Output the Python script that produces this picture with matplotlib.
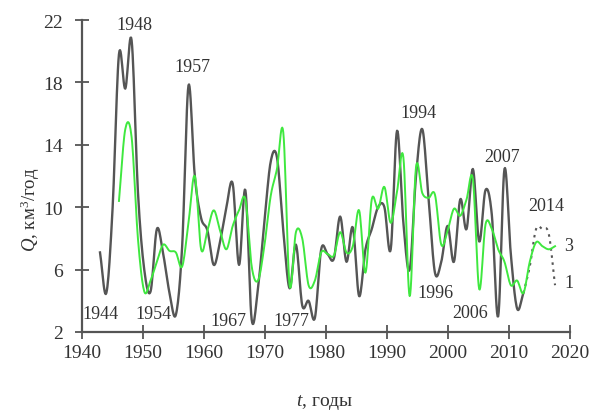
import numpy as np
import matplotlib
matplotlib.use("Agg")
import matplotlib.pyplot as plt

plt.rcParams['font.family'] = ['Liberation Serif', 'DejaVu Serif']
plt.rcParams['mathtext.fontset'] = 'custom'
plt.rcParams['mathtext.rm'] = 'Liberation Serif'
plt.rcParams['mathtext.it'] = 'Liberation Serif:italic'

# ---- data ----
years_obs = list(range(1943, 2011))
q_obs = [7.1, 4.5, 10.0, 19.8, 17.6, 20.7, 11.0, 6.0, 4.6, 8.6,
         7.0, 4.5, 3.1, 7.5, 17.8, 12.0, 9.3, 8.5, 6.3, 7.8,
         10.0, 11.5, 6.3, 11.1, 2.8, 4.8, 9.0, 12.9, 13.2, 8.5,
         4.8, 7.6, 3.7, 4.0, 2.9, 7.3, 7.0, 6.7, 9.4, 6.5,
         8.7, 4.3, 7.3, 8.6, 10.0, 10.0, 7.3, 14.9, 9.0, 6.0,
         12.0, 15.0, 10.5, 5.8, 6.5, 8.8, 6.5, 10.5, 8.6, 12.45,
         7.8, 11.1, 9.5, 3.0, 12.45, 7.0, 3.5, 4.5]
years_fc = [2010, 2011, 2012, 2013, 2014, 2015]
q_fc = [4.5, 6.2, 8.6, 8.6, 8.3, 5.0]

years_mod = list(range(1946, 2016))
q_mod = [10.4, 15.0, 14.5, 8.0, 4.6, 5.3, 6.5, 7.6, 7.2, 7.1,
         6.2, 9.0, 12.0, 7.3, 8.5, 9.8, 8.5, 7.3, 8.8, 9.8,
         10.5, 6.2, 5.3, 7.5, 10.7, 12.45, 14.8, 5.0, 8.4, 8.0,
         5.0, 5.3, 7.1, 7.0, 6.9, 8.4, 7.1, 7.5, 9.8, 5.8,
         10.5, 9.9, 11.3, 9.0, 11.0, 13.2, 4.3, 12.55, 10.9, 10.6,
         10.8, 7.6, 8.5, 9.9, 9.45, 10.5, 11.8, 4.75, 8.9, 8.6,
         7.3, 6.5, 5.0, 5.3, 4.5, 6.5, 7.75, 7.5, 7.3, 7.5]

x_ticks = [1940, 1950, 1960, 1970, 1980, 1990, 2000, 2010, 2020]
y_ticks = [2, 6, 10, 14, 18, 22]

peak_labels = ["1948", "1957", "1944", "1954", "1967", "1977",
               "1994", "1996", "2006", "2007", "2014"]


def smooth(x, y, n=12):
    """Catmull-Rom rendering of a line through the given points."""
    x = np.asarray(x, float)
    y = np.asarray(y, float)
    px = np.concatenate([[2 * x[0] - x[1]], x, [2 * x[-1] - x[-2]]])
    py = np.concatenate([[2 * y[0] - y[1]], y, [2 * y[-1] - y[-2]]])
    xs, ys = [], []
    t = np.linspace(0, 1, n, endpoint=False)
    for i in range(1, len(px) - 2):
        for arr, out in ((px, xs), (py, ys)):
            p0, p1, p2, p3 = arr[i - 1], arr[i], arr[i + 1], arr[i + 2]
            out.extend(0.5 * ((2 * p1) + (-p0 + p2) * t
                              + (2 * p0 - 5 * p1 + 4 * p2 - p3) * t ** 2
                              + (-p0 + 3 * p1 - 3 * p2 + p3) * t ** 3))
    xs.append(x[-1])
    ys.append(y[-1])
    return np.array(xs), np.array(ys)


fig = plt.figure(figsize=(6.01, 4.14), dpi=100)
ax = fig.add_axes([82 / 601, 81 / 414, 488 / 601, 312 / 414])
ax.set_xlim(1940, 2020)
ax.set_ylim(2, 22)

axis_col = '#555555'
txt_col = '#333333'
for s in ['top', 'right']:
    ax.spines[s].set_visible(False)
for s in ['left', 'bottom']:
    ax.spines[s].set_color(axis_col)
    ax.spines[s].set_linewidth(1.6)
ax.set_xticks(x_ticks)
ax.set_yticks(y_ticks)
ax.tick_params(axis='x', direction='inout', length=10, width=1.3,
               color=axis_col, labelsize=14, pad=4, labelcolor=txt_col)
ax.tick_params(axis='y', direction='inout', length=10, width=1.3,
               color=axis_col, labelsize=14, pad=9, labelcolor=txt_col)

# data axis (the curves in the original are laid on a slightly different scale)
axd = ax.twiny()
axd.set_xlim(1940.152, 2017.367)
axd.set_ylim(2, 22)
axd.axis('off')

xs, ys = smooth(years_obs, q_obs)
axd.plot(xs, ys, color='#555555', lw=1.7, zorder=2)
xs, ys = smooth(years_fc, q_fc)
axd.plot(xs, ys, color='#555555', lw=1.5, ls=(0, (1.2, 2.2)), zorder=2)
xs, ys = smooth(years_mod, q_mod)
axd.plot(xs, ys, color='#3fe83f', lw=1.4, zorder=3)


def pix(xp, yp):
    return ((xp - 82) / 488, (333 - yp) / 312)


label_pos = [(134, 25), (192, 67), (100, 315), (153, 315), (228, 322),
             (291, 322), (418, 113), (435, 293), (470, 313), (502, 158),
             (546, 207)]
for txt, (xp, yp) in zip(peak_labels, label_pos):
    ax.text(*pix(xp, yp), txt, transform=ax.transAxes, ha='center',
            va='center', fontsize=13, color=txt_col, clip_on=False)
ax.text(*pix(569, 247), "3", transform=ax.transAxes, ha='center',
        va='center', fontsize=13, color=txt_col, clip_on=False)
ax.text(*pix(569, 283), "1", transform=ax.transAxes, ha='center',
        va='center', fontsize=13, color=txt_col, clip_on=False)

fig.text(325 / 601, 1 - 403 / 414, r"$\mathit{t}$, годы", ha='center',
         va='center', fontsize=14, color=txt_col)
fig.text(30 / 601, 1 - 210 / 414, r"$\mathit{Q}$, км$^{3}$/год", ha='center',
         va='center', rotation=90, fontsize=13.5, color=txt_col)

fig.savefig("out.png", dpi=100)
